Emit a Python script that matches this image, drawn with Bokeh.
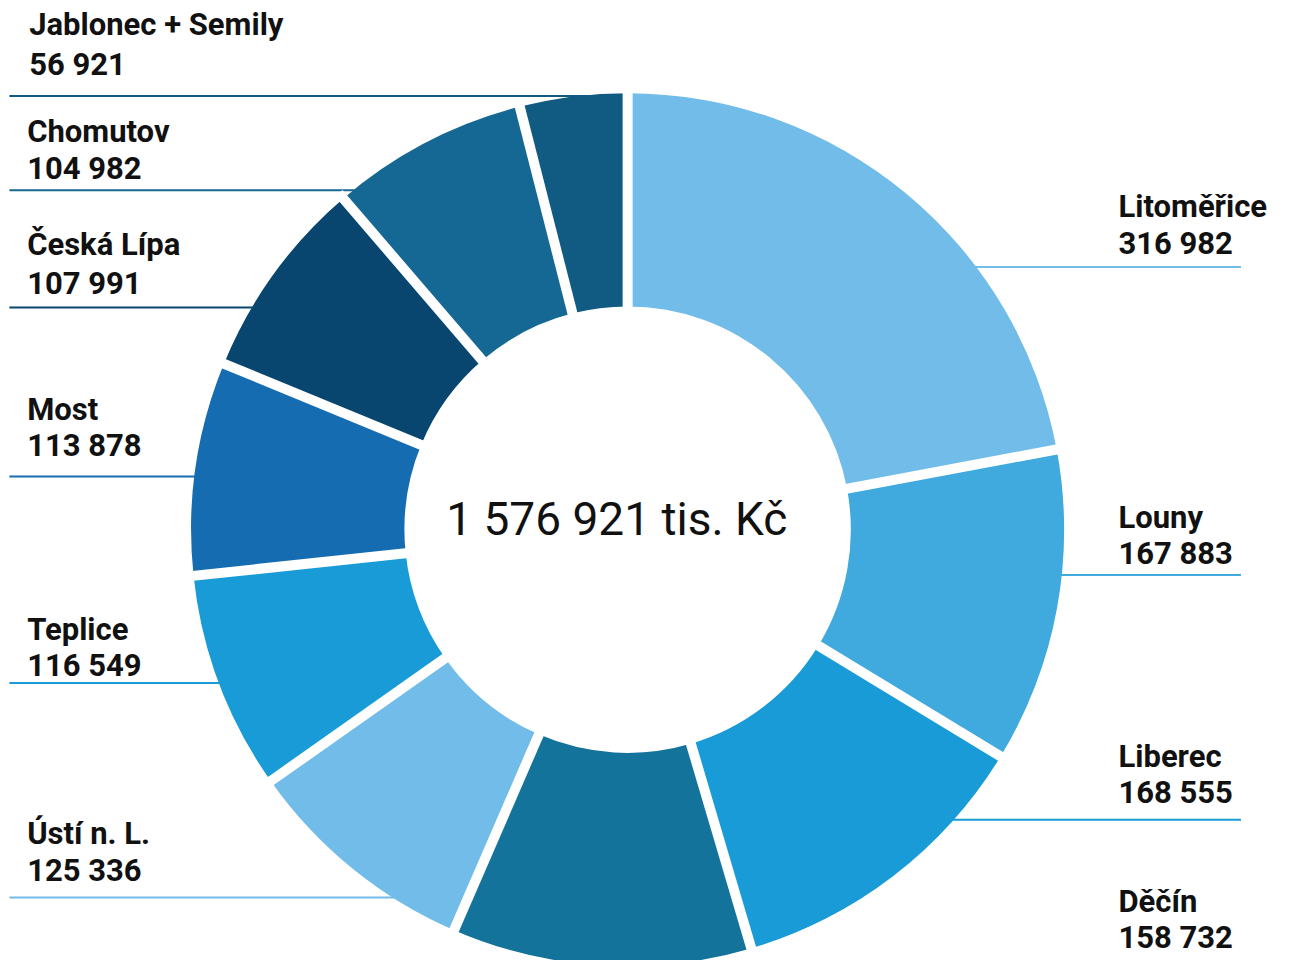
import math
from bokeh.plotting import figure
from bokeh.models import Range1d, ColumnDataSource
from bokeh.core.properties import value
from bokeh.embed import file_html
from bokeh.resources import INLINE

# ---- data ----
districts = ["Litoměřice", "Louny", "Liberec", "Děčín", "Ústí n. L.", "Teplice",
             "Most", "Česká Lípa", "Chomutov", "Jablonec + Semily"]
amounts = [316982, 167883, 168555, 158732, 125336, 116549, 113878, 107991, 104982, 56921]
amount_labels = ["316 982", "167 883", "168 555", "158 732", "125 336", "116 549",
                 "113 878", "107 991", "104 982", "56 921"]
total_label = "1 576 921 tis. Kč"
colors = ["#71BCE8", "#40A9DD", "#189BD7", "#13739A", "#71BCE8", "#189BD7",
          "#166CB1", "#08466F", "#166894", "#115A82"]

# ---- layout (reference pixel coordinates, y downwards) ----
W, H = 1275, 960
REF_W, REF_H = 1291, 976
def Y(ypix):
    return REF_H - ypix

CX, CY = 635, 538
R_OUT, R_IN = 442, 226
LABEL_FS = 31
CENTER_FS = 46
def base_fix(fs):
    # compensate the baseline placement of the svg text
    return 0.4 * fs

# label layout: (x, name baseline, number baseline, line y or None, side)
label_pos = {
    "Litoměřice": (1132, 222, 259, 271, "right"),
    "Louny": (1132, 538, 575, 584, "right"),
    "Liberec": (1132, 781, 818, 833, "right"),
    "Děčín": (1132, 928, 965, None, "right"),
    "Ústí n. L.": (27, 859, 897, 912, "left"),
    "Teplice": (27, 652, 688, 694, "left"),
    "Most": (27, 428, 465, 484, "left"),
    "Česká Lípa": (27, 260, 300, 312, "left"),
    "Chomutov": (27, 146, 183, 193, "left"),
    "Jablonec + Semily": (29, 37, 77, 97, "left"),
}

p = figure(width=W, height=H, output_backend="svg", toolbar_location=None,
           x_range=Range1d(0, REF_W), y_range=Range1d(0, REF_H),
           min_border=0, outline_line_color=None)
p.axis.visible = False
p.grid.visible = False
p.background_fill_color = "white"
p.border_fill_color = "white"

# donut wedges
total = sum(amounts)
cum = [0.0]
for a in amounts:
    cum.append(cum[-1] + a / total)
starts = [math.pi / 2 - 2 * math.pi * cum[i + 1] for i in range(len(amounts))]
ends = [math.pi / 2 - 2 * math.pi * cum[i] for i in range(len(amounts))]

# leader lines (behind donut)
for i, name in enumerate(districts):
    x, yn, yv, yl, side = label_pos[name]
    if yl is None:
        continue
    dy = abs(yl - CY)
    half = math.sqrt(max(R_OUT ** 2 - dy ** 2, 0))
    if side == "left":
        x0, x1 = 9, CX - half + 2
    else:
        x0, x1 = CX + half - 2, 1256
    p.segment(x0=[x0], y0=[Y(yl)], x1=[x1], y1=[Y(yl)], line_color=colors[i], line_width=2)

src = ColumnDataSource(dict(start=starts, end=ends, color=colors))
p.annular_wedge(x=CX, y=Y(CY), inner_radius=R_IN, outer_radius=R_OUT,
                start_angle="start", end_angle="end", fill_color="color",
                line_color=None, direction="anticlock", source=src)

# white gaps along boundaries
bx0, by0, bx1, by1 = [], [], [], []
for c in cum[:-1]:
    ang = math.pi / 2 - 2 * math.pi * c
    bx0.append(CX + (R_IN - 5) * math.cos(ang))
    by0.append(Y(CY) + (R_IN - 5) * math.sin(ang))
    bx1.append(CX + (R_OUT + 8) * math.cos(ang))
    by1.append(Y(CY) + (R_OUT + 8) * math.sin(ang))
p.segment(x0=bx0, y0=by0, x1=bx1, y1=by1, line_color="white", line_width=10)

# labels
for i, name in enumerate(districts):
    x, yn, yv, yl, side = label_pos[name]
    f = base_fix(LABEL_FS)
    p.text(x=[x, x], y=[Y(yn - f), Y(yv - f)], text=[name, amount_labels[i]],
           text_font=value("Roboto"), text_font_style="bold",
           text_font_size=f"{LABEL_FS}px", text_color="#111111",
           text_baseline="alphabetic", text_align="left")

p.text(x=[624], y=[Y(546 - base_fix(CENTER_FS))], text=[total_label], text_font=value("Roboto"),
       text_font_style="normal", text_font_size=f"{CENTER_FS}px", text_color="#111111",
       text_baseline="alphabetic", text_align="center")

open("out.html", "w").write(file_html(p, INLINE))
